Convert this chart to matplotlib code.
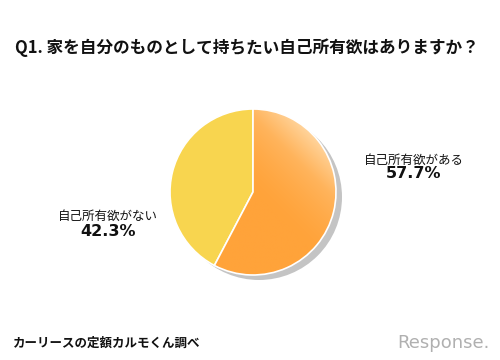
import matplotlib
matplotlib.use("Agg")
import matplotlib.pyplot as plt
import numpy as np
from matplotlib.colors import LinearSegmentedColormap
from matplotlib.patches import Circle

plt.rcParams['font.family'] = ['Noto Sans CJK JP', 'DejaVu Sans']

title = "Q1. 家を自分のものとして持ちたい自己所有欲はありますか？"
labels = ["自己所有欲がある", "自己所有欲がない"]
shares = [57.7, 42.3]
source = "カーリースの定額カルモくん調べ"

fig = plt.figure(figsize=(5, 3.6), dpi=100)
ax = fig.add_axes([0, 0, 1, 1])
ax.set_xlim(0, 500)
ax.set_ylim(0, 360)
ax.set_aspect("equal")
ax.axis("off")

cx, cy, r = 253, 168, 83

# drop shadow
ax.add_patch(Circle((cx + 6, cy - 5), r, facecolor="#c4c4c4", edgecolor="none", zorder=1))

wedges, _ = ax.pie(shares, startangle=90, counterclock=False, center=(cx, cy), radius=r,
                   colors=["#ffa640", "#f8d54f"],
                   wedgeprops=dict(edgecolor="white", linewidth=1.2))
for w in wedges:
    w.set_zorder(2)

# gradient fill on the orange wedge (lighter toward the upper right)
n = 300
xs = np.linspace(cx - r, cx + r, n)
ys = np.linspace(cy - r, cy + r, n)
X, Y = np.meshgrid(xs, ys)
t = ((X - cx) + (Y - cy)) / (np.sqrt(2) * r)
t = np.clip(t, 0, 1) ** 1.6
cmap = LinearSegmentedColormap.from_list("og", ["#ffa33a", "#ffb45c", "#ffd49c"])
im = ax.imshow(t, cmap=cmap, extent=(cx - r, cx + r, cy - r, cy + r), origin="lower",
               vmin=0, vmax=1, zorder=3, interpolation="bilinear")
im.set_clip_path(wedges[0])
wedges[0].set_facecolor("none")
wedges[0].set_zorder(4)
ax.set_xlim(0, 500)
ax.set_ylim(0, 360)

ax.text(247, 312, title, ha="center", va="center", fontsize=12, fontweight="bold", color="#111111")

ax.text(414, 200, labels[0], ha="center", va="center", fontsize=9, color="#111111")
ax.text(414, 186, f"{shares[0]}%", ha="center", va="center", fontsize=11.5,
        fontweight="bold", family="DejaVu Sans", color="#111111")
ax.text(108, 144, labels[1], ha="center", va="center", fontsize=9, color="#111111")
ax.text(108, 128, f"{shares[1]}%", ha="center", va="center", fontsize=11.5,
        fontweight="bold", family="DejaVu Sans", color="#111111")

ax.text(13, 17, source, ha="left", va="center", fontsize=9, fontweight="bold", color="#111111")
ax.text(490, 17, "Response.", ha="right", va="center", fontsize=13, color="#b0b0b0",
        family="DejaVu Sans")

fig.savefig("out.png", dpi=100)
